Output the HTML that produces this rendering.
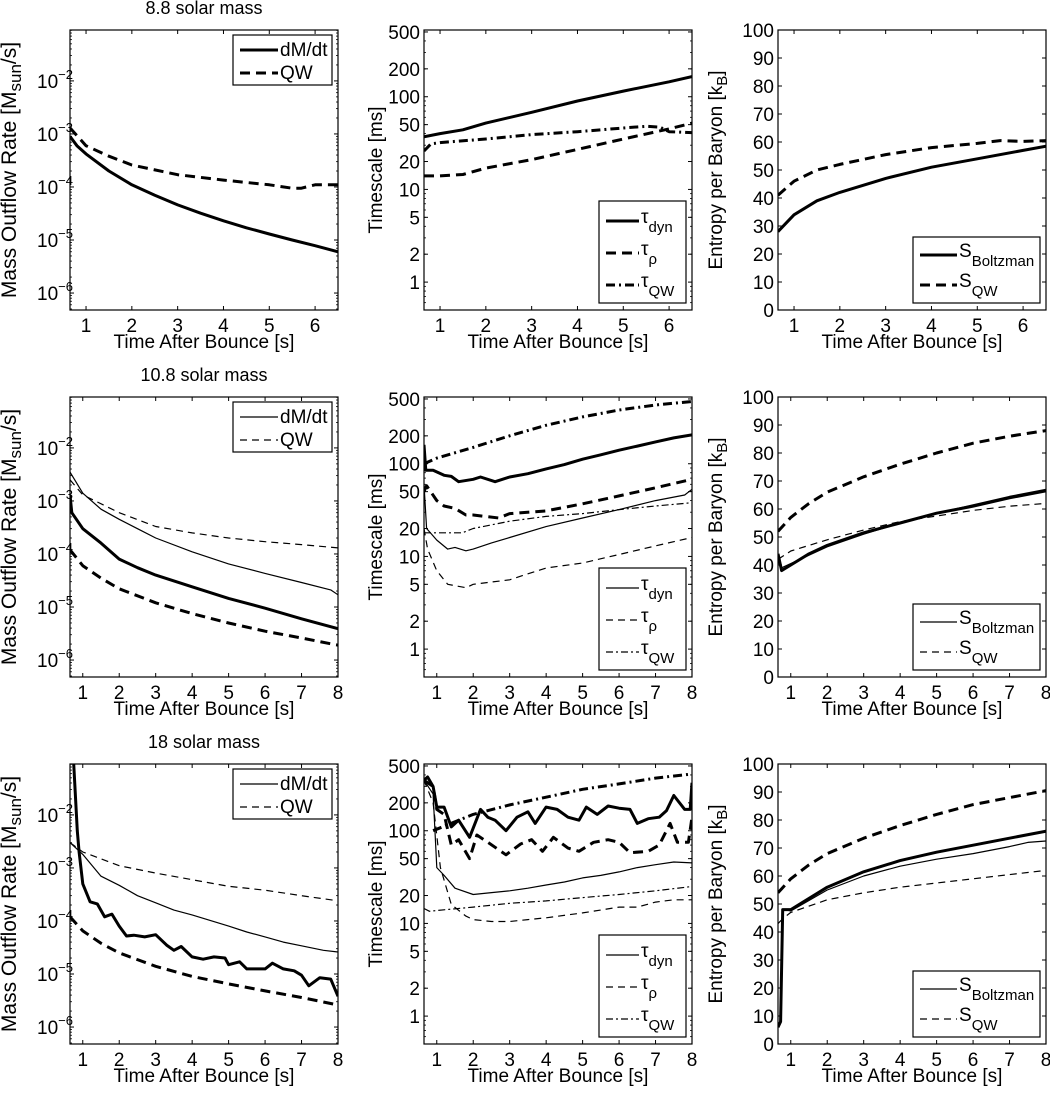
<!DOCTYPE html>
<html><head><meta charset="utf-8"><style>
html,body{margin:0;padding:0;background:#fff;}
svg text{font-family:"Liberation Sans",Arial,sans-serif;fill:#000;}
</style></head><body>
<svg id="fig" width="1050" height="1088" viewBox="0 0 1050 1088" xmlns="http://www.w3.org/2000/svg"></svg>
<script>
// ---------- DATA ----------
// Row 1: 8.8 solar mass
const r1_mass_dmdt_x=[0.65,0.8,1,1.5,2,2.5,3,3.5,4,4.5,5,5.5,6,6.5];
const r1_mass_dmdt_y=[9e-4,6e-4,4.2e-4,2e-4,1.1e-4,7e-5,4.6e-5,3.2e-5,2.3e-5,1.7e-5,1.3e-5,1e-5,7.8e-6,6e-6];
const r1_mass_qw_x=[0.65,1,1.5,2,3,4,5,5.5,5.7,6,6.5];
const r1_mass_qw_y=[1.3e-3,6e-4,3.8e-4,2.6e-4,1.7e-4,1.35e-4,1.1e-4,9.5e-5,9.5e-5,1.1e-4,1.1e-4];
const r1_ts_dyn_x=[0.65,1,1.5,2,3,4,5,6,6.5];
const r1_ts_dyn_y=[37,40,44,52,68,90,115,145,165];
const r1_ts_rho_x=[0.65,1,1.5,2,3,4,5,6,6.5];
const r1_ts_rho_y=[14,14,14.5,17,21,27,35,45,52];
const r1_ts_qw_x=[0.65,0.8,1,2,3,4,5,5.5,5.8,6,6.5];
const r1_ts_qw_y=[26,31,32,35,39,42,46,48,47,42,41];
const r1_s_b_x=[0.65,1,1.5,2,3,4,5,6,6.5];
const r1_s_b_y=[28,34,39,42,47,51,54,57,58.5];
const r1_s_qw_x=[0.65,1,1.5,2,3,4,5,5.5,6,6.5];
const r1_s_qw_y=[41,46,50,52,55.5,58,59.5,60.5,60.2,60.5];
// Row 2: 10.8 solar mass
const r2_mass_thin_x=[0.65,1,1.5,2,2.5,3,4,5,6,7,7.8,8];
const r2_mass_thin_y=[3.5e-3,1.4e-3,7e-4,4.5e-4,3e-4,2e-4,1.1e-4,6.5e-5,4.3e-5,2.9e-5,2.1e-5,1.7e-5];
const r2_mass_thinqw_x=[0.65,1,2,3,4,5,6,7,8];
const r2_mass_thinqw_y=[2.5e-3,1.3e-3,6e-4,3.3e-4,2.5e-4,2e-4,1.7e-4,1.5e-4,1.3e-4];
const r2_mass_thick_x=[0.65,0.7,1,1.5,2,2.5,3,4,5,6,7,8];
const r2_mass_thick_y=[1.3e-3,6e-4,3e-4,1.6e-4,8e-5,5.5e-5,4e-5,2.4e-5,1.45e-5,9.5e-6,6e-6,3.9e-6];
const r2_mass_thickqw_x=[0.65,1,1.5,2,3,4,5,6,7,8];
const r2_mass_thickqw_y=[1.2e-4,6e-5,3.5e-5,2.2e-5,1.2e-5,7.5e-6,5e-6,3.5e-6,2.6e-6,1.9e-6];
const r2_ts_dyn_thick_x=[0.65,0.7,0.9,1.2,1.4,1.6,2,2.2,2.6,3,3.5,4,4.5,5,5.5,6,6.5,7,7.5,8];
const r2_ts_dyn_thick_y=[160,85,85,75,73,64,68,72,64,72,78,88,98,112,125,140,155,172,190,205];
const r2_ts_rho_thick_x=[0.65,0.72,1,1.2,1.5,1.8,2,2.7,3,4,5,6,7,8];
const r2_ts_rho_thick_y=[50,58,40,35,33,28,28,26,29,31,37,45,55,68];
const r2_ts_qw_thick_x=[0.65,1,2,3,4,5,6,7,8];
const r2_ts_qw_thick_y=[100,115,150,200,260,320,380,430,470];
const r2_ts_dyn_thin_x=[0.65,0.72,1,1.3,1.5,1.8,2,2.5,3,4,5,6,7,7.8,8];
const r2_ts_dyn_thin_y=[60,20,15,12,12.5,11.5,12,14,16,21,26,32,40,46,53];
const r2_ts_rho_thin_x=[0.65,0.75,1,1.3,1.8,2,3,3.5,4,5,6,7,8];
const r2_ts_rho_thin_y=[20,12,7,5,4.6,5,5.6,6.5,7.5,8.5,10.5,13,16];
const r2_ts_qw_thin_x=[0.65,1,1.7,2,3,4,5,6,7,8];
const r2_ts_qw_thin_y=[18,18,18,20,24,27,29,32,35,38];
const r2_s_b_thick_x=[0.65,0.75,1,1.5,2,3,4,5,6,7,8];
const r2_s_b_thick_y=[44,38,40,44,47,51.5,55,58.5,61,64,66.5];
const r2_s_b_thin_x=[0.65,0.75,1,2,3,4,5,6,7,8];
const r2_s_b_thin_y=[43,39,40.5,46.5,51,55,58.5,61.5,64.5,67];
const r2_s_qw_thick_x=[0.65,1,1.5,2,3,4,5,6,7,8];
const r2_s_qw_thick_y=[52,57,62,66,71.5,76,80,83.5,86,88];
const r2_s_qw_thin_x=[0.65,1,2,3,4,5,6,7,8];
const r2_s_qw_thin_y=[42,45,49,52.5,55.5,57.5,59.5,61,62];
// Row 3: 18 solar mass
const r3_mass_thick_x=[0.75,0.85,0.9,1,1.2,1.4,1.6,1.8,2,2.2,2.4,2.7,3,3.3,3.5,3.7,4,4.3,4.6,4.9,5,5.3,5.5,6,6.2,6.5,6.8,7,7.2,7.5,7.8,8];
const r3_mass_thick_y=[1e-1,5e-3,2e-3,5e-4,2.3e-4,2.1e-4,1.2e-4,1.35e-4,8e-5,5.2e-5,5.4e-5,5e-5,5.5e-5,3.5e-5,2.8e-5,3.3e-5,2.1e-5,1.9e-5,2.1e-5,2e-5,1.5e-5,1.7e-5,1.25e-5,1.25e-5,1.6e-5,1.25e-5,1.15e-5,9.5e-6,6e-6,8.5e-6,8e-6,3.8e-6];
const r3_mass_thin_x=[0.65,1,1.5,2,2.5,3,3.5,4,5,5.5,6,6.5,7,7.6,8];
const r3_mass_thin_y=[3e-3,1.8e-3,7e-4,4.7e-4,3e-4,2.2e-4,1.6e-4,1.3e-4,8e-5,6.2e-5,5e-5,4e-5,3.4e-5,2.8e-5,2.6e-5];
const r3_mass_thinqw_x=[0.65,1,2,3,4,5,6,7,8];
const r3_mass_thinqw_y=[3e-3,2e-3,1.1e-3,8e-4,6e-4,4.5e-4,3.8e-4,3e-4,2.4e-4];
const r3_mass_thickqw_x=[0.65,1,1.5,2,3,4,5,6,7,8];
const r3_mass_thickqw_y=[1.2e-4,6.5e-5,3.8e-5,2.5e-5,1.4e-5,9e-6,6.5e-6,4.8e-6,3.6e-6,2.6e-6];
const r3_ts_dyn_thick_x=[0.65,0.75,0.9,1,1.2,1.4,1.6,1.9,2.2,2.4,2.6,2.9,3.2,3.5,3.7,4,4.3,4.6,4.9,5.1,5.4,5.7,6,6.3,6.5,6.8,7.1,7.3,7.5,7.8,7.95,8];
const r3_ts_dyn_thick_y=[350,380,300,180,180,110,130,85,170,140,130,100,140,160,120,180,170,140,130,180,150,185,175,170,120,135,140,165,240,170,170,330];
const r3_ts_rho_thick_x=[0.65,0.9,1,1.2,1.4,1.6,1.9,2.1,2.4,2.9,3.3,3.6,3.9,4.2,4.6,4.9,5.3,5.7,6,6.3,6.8,7.1,7.4,7.6,7.9,8];
const r3_ts_rho_thick_y=[350,300,170,150,70,80,50,90,75,55,72,80,60,85,65,60,75,80,75,58,60,70,120,75,75,140];
const r3_ts_qw_thick_x=[0.9,2,3,4,5,6,7,8];
const r3_ts_qw_thick_y=[100,150,190,230,280,320,370,410];
const r3_ts_dyn_thin_x=[0.65,0.9,1,1.2,1.5,2,2.5,3,3.5,4,4.5,5,5.5,6,6.5,7,7.5,8];
const r3_ts_dyn_thin_y=[350,250,40,33,24,20.5,21.5,22.5,24,26,28,31,33,36,40,43,46,45];
const r3_ts_rho_thin_x=[0.65,0.9,1.1,1.4,1.8,2,2.5,3,3.5,4,5,6,6.5,7,7.5,8];
const r3_ts_rho_thin_y=[350,200,40,16,12,11,10.5,10.5,11,11.5,13,15,15,17,18,18];
const r3_ts_qw_thin_x=[0.65,0.8,1,2,3,4,5,6,7,8];
const r3_ts_qw_thin_y=[14.5,13.5,13.8,15,16.5,17.5,19,20.5,22.5,25];
const r3_s_b_thick_x=[0.65,0.72,0.78,0.85,1,1.5,2,3,4,5,6,7,7.6,8];
const r3_s_b_thick_y=[6,8,48,48,48,52,56,61.5,65.5,68.5,71,73.5,75,76];
const r3_s_b_thin_x=[0.65,0.72,0.78,0.85,1,2,3,4,5,6,7,7.5,8];
const r3_s_b_thin_y=[6,8,48,48,47.5,55,60,63.5,66,68,70.5,72,72.5];
const r3_s_qw_thin_x=[0.65,0.8,1,2,3,4,5,6,7,8];
const r3_s_qw_thin_y=[43,45,47,51.5,54,56,57.5,59,60.5,62];
const r3_s_qw_thick_x=[0.65,1,1.5,2,3,4,5,6,7,8];
const r3_s_qw_thick_y=[54,59,64,68,73.5,78,82,85.5,88,90.5];

// tick labels
const xTicks1=[1,2,3,4,5,6];
const xTicks2=[1,2,3,4,5,6,7,8];
const massTickExp=[-2,-3,-4,-5,-6];
const tsTicks=[1,2,5,10,20,50,100,200,500];
const sTicks=[0,10,20,30,40,50,60,70,80,90,100];
const titles=["8.8 solar mass","10.8 solar mass","18 solar mass"];

// ---------- DRAW ----------
const NS="http://www.w3.org/2000/svg";
const svg=document.getElementById('fig');
function mk(tag,attrs,parent){const e=document.createElementNS(NS,tag);for(const k in attrs)e.setAttribute(k,attrs[k]);(parent||svg).appendChild(e);return e;}
const colL=[70,424,778], W=268, rowT=[30,397,764], H=280;
const STY={
 thickSolid:{w:3,d:"none"}, thickDash:{w:3,d:"10,6"}, thickDD:{w:3,d:"9,4,2,4"},
 thinSolid:{w:1.2,d:"none"}, thinDash:{w:1.2,d:"7,5"}, thinDD:{w:1.2,d:"7,3,2,3"}
};
let clipId=0;
function panel(r,c,xmax,ytype){
  const L=colL[c], T=rowT[r], R=L+W, B=T+H, xmin=0.65;
  const g=mk('g',{});
  
  
  const sx=x=>L+(x-xmin)/(xmax-xmin)*W;
  let sy;
  if(ytype==='mass'){const a=-6.32,b=-1.04;sy=v=>B-(Math.log10(v)-a)/(b-a)*H;}
  else if(ytype==='ts'){const a=Math.log10(0.5),b=Math.log10(525);sy=v=>B-(Math.log10(v)-a)/(b-a)*H;}
  else {sy=v=>B-v/100*H;}
  const id='clip'+(clipId++);
  const cp=mk('clipPath',{id:id},g); mk('rect',{x:L,y:T,width:W,height:H},cp);
  const xt=xmax>7?xTicks2:xTicks1;
  xt.forEach(v=>{
    const X=sx(v);
    mk('line',{x1:X,y1:B,x2:X,y2:B-4,stroke:'#000','stroke-width':1},g);
    mk('line',{x1:X,y1:T,x2:X,y2:T+4,stroke:'#000','stroke-width':1},g);
    const t=mk('text',{x:X,y:B+22,'text-anchor':'middle','font-size':19},g);t.textContent=v;
    
    
  });
  const yt=(ytype==='mass')?massTickExp.map(e=>Math.pow(10,e)):(ytype==='ts'?tsTicks:sTicks);
  yt.forEach((v,i)=>{
    const Y=sy(v);
    mk('line',{x1:L,y1:Y,x2:L+4,y2:Y,stroke:'#000','stroke-width':1},g);
    mk('line',{x1:R,y1:Y,x2:R-4,y2:Y,stroke:'#000','stroke-width':1},g);
    const t=mk('text',{x:L-4,y:Y+7,'text-anchor':'end','font-size':19},g);
    
    
    if(ytype==='mass'){t.setAttribute('x',L-33);t.setAttribute('text-anchor','start');t.textContent='10';const s=mk('tspan',{'font-size':13,dy:-9},t);s.textContent='\u2212'+(-massTickExp[i]);}
    else t.textContent=v;
  });
  if(ytype!=='lin'){
    const lo=ytype==='mass'?-7:-1, hi=ytype==='mass'?-1:3;
    for(let e=lo;e<hi;e++)for(let k=2;k<10;k++){const v=k*Math.pow(10,e);const Y=sy(v);if(Y<T||Y>B)continue;
      mk('line',{x1:L,y1:Y,x2:L+2,y2:Y,stroke:'#000','stroke-width':0.8},g);
      mk('line',{x1:R,y1:Y,x2:R-2,y2:Y,stroke:'#000','stroke-width':0.8},g);}
  }
  mk('rect',{x:L,y:T,width:W,height:H,fill:'none',stroke:'#000','stroke-width':1.2},g);
  const xl=mk('text',{x:L+W/2,y:B+38,'text-anchor':'middle','font-size':19},g);xl.textContent='Time After Bounce [s]';
  
  
  return {g,sx,sy,L,T,R,B,id};
}
function series(P,xs,ys,sty,name){
  const d=xs.map((x,i)=>(i?'L':'M')+P.sx(x).toFixed(1)+','+P.sy(ys[i]).toFixed(1)).join('');
  const p=mk('path',{d:d,fill:'none',stroke:'#000','stroke-width':sty.w,'stroke-dasharray':sty.d,'clip-path':'url(#'+P.id+')','stroke-linejoin':'round'},P.g);
  
  
}
function legend(P,x,y,w,h,entries,lineLen){
  const lg=mk('g',{},P.g);
  
  
  mk('rect',{x:x,y:y,width:w,height:h,fill:'#fff',stroke:'#000','stroke-width':1.2},lg);
  entries.forEach(e=>{
    mk('line',{x1:x+7,y1:e.y,x2:x+7+lineLen,y2:e.y,stroke:'#000','stroke-width':e.s.w,'stroke-dasharray':e.s.d},lg);
    const t=mk('text',{x:x+9+lineLen,y:e.y+(e.sub?2:6),'font-size':19},lg);
    
    
    t.textContent=e.main;
    if(e.sub){const s=mk('tspan',{'font-size':15,dy:9},t);s.textContent=e.sub;}
  });
}
function ylabel(x,yc,parts,fs){
  const t=mk('text',{x:0,y:0,'text-anchor':'middle','font-size':fs,transform:'translate('+x+','+yc+') rotate(-90)'});
  
  
  parts.forEach(p=>{const s=mk('tspan',p.sub?{'font-size':fs-4,dy:5}:(p.up?{dy:-5}:{}),t);s.textContent=p.t;});
}

const massLabel=[{t:'Mass Outflow Rate   [M'},{t:'sun',sub:true},{t:'/s]',up:true}];
const tsLabel=[{t:'Timescale [ms]'}];
const sLabel=[{t:'Entropy per Baryon [k'},{t:'B',sub:true},{t:']',up:true}];

for(let r=0;r<3;r++){
  const xmax=r===0?6.5:8;
  const tt=mk('text',{x:colL[0]+W/2,y:rowT[r]-16,'text-anchor':'middle','font-size':18});
  tt.textContent=titles[r];
  
  
  const cy=rowT[r]+H/2;
  ylabel(16,cy,massLabel,21); ylabel(382,cy,tsLabel,19); ylabel(722,cy,sLabel,19);
  const P1=panel(r,0,xmax,'mass'), P2=panel(r,1,xmax,'ts'), P3=panel(r,2,xmax,'lin');
  const thin=r>0;
  if(r===0){
    series(P1,r1_mass_dmdt_x,r1_mass_dmdt_y,STY.thickSolid,'dmdt-line');
    series(P1,r1_mass_qw_x,r1_mass_qw_y,STY.thickDash,'qw-line');
    series(P2,r1_ts_dyn_x,r1_ts_dyn_y,STY.thickSolid,'tau-dyn-line');
    series(P2,r1_ts_rho_x,r1_ts_rho_y,STY.thickDash,'tau-rho-line');
    series(P2,r1_ts_qw_x,r1_ts_qw_y,STY.thickDD,'tau-qw-line');
    series(P3,r1_s_b_x,r1_s_b_y,STY.thickSolid,'s-boltzman-line');
    series(P3,r1_s_qw_x,r1_s_qw_y,STY.thickDash,'s-qw-line');
  } else if(r===1){
    series(P1,r2_mass_thin_x,r2_mass_thin_y,STY.thinSolid,'dmdt-thin-line');
    series(P1,r2_mass_thinqw_x,r2_mass_thinqw_y,STY.thinDash,'qw-thin-line');
    series(P1,r2_mass_thick_x,r2_mass_thick_y,STY.thickSolid,'dmdt-thick-line');
    series(P1,r2_mass_thickqw_x,r2_mass_thickqw_y,STY.thickDash,'qw-thick-line');
    series(P2,r2_ts_qw_thick_x,r2_ts_qw_thick_y,STY.thickDD,'tau-qw-thick-line');
    series(P2,r2_ts_dyn_thick_x,r2_ts_dyn_thick_y,STY.thickSolid,'tau-dyn-thick-line');
    series(P2,r2_ts_rho_thick_x,r2_ts_rho_thick_y,STY.thickDash,'tau-rho-thick-line');
    series(P2,r2_ts_dyn_thin_x,r2_ts_dyn_thin_y,STY.thinSolid,'tau-dyn-thin-line');
    series(P2,r2_ts_rho_thin_x,r2_ts_rho_thin_y,STY.thinDash,'tau-rho-thin-line');
    series(P2,r2_ts_qw_thin_x,r2_ts_qw_thin_y,STY.thinDD,'tau-qw-thin-line');
    series(P3,r2_s_qw_thick_x,r2_s_qw_thick_y,STY.thickDash,'s-qw-thick-line');
    series(P3,r2_s_b_thick_x,r2_s_b_thick_y,STY.thickSolid,'s-boltzman-thick-line');
    series(P3,r2_s_b_thin_x,r2_s_b_thin_y,STY.thinSolid,'s-boltzman-thin-line');
    series(P3,r2_s_qw_thin_x,r2_s_qw_thin_y,STY.thinDash,'s-qw-thin-line');
  } else {
    series(P1,r3_mass_thick_x,r3_mass_thick_y,STY.thickSolid,'dmdt-thick-line');
    series(P1,r3_mass_thin_x,r3_mass_thin_y,STY.thinSolid,'dmdt-thin-line');
    series(P1,r3_mass_thinqw_x,r3_mass_thinqw_y,STY.thinDash,'qw-thin-line');
    series(P1,r3_mass_thickqw_x,r3_mass_thickqw_y,STY.thickDash,'qw-thick-line');
    series(P2,r3_ts_qw_thick_x,r3_ts_qw_thick_y,STY.thickDD,'tau-qw-thick-line');
    series(P2,r3_ts_dyn_thick_x,r3_ts_dyn_thick_y,STY.thickSolid,'tau-dyn-thick-line');
    series(P2,r3_ts_rho_thick_x,r3_ts_rho_thick_y,STY.thickDash,'tau-rho-thick-line');
    series(P2,r3_ts_dyn_thin_x,r3_ts_dyn_thin_y,STY.thinSolid,'tau-dyn-thin-line');
    series(P2,r3_ts_rho_thin_x,r3_ts_rho_thin_y,STY.thinDash,'tau-rho-thin-line');
    series(P2,r3_ts_qw_thin_x,r3_ts_qw_thin_y,STY.thinDD,'tau-qw-thin-line');
    series(P3,r3_s_qw_thick_x,r3_s_qw_thick_y,STY.thickDash,'s-qw-thick-line');
    series(P3,r3_s_b_thick_x,r3_s_b_thick_y,STY.thickSolid,'s-boltzman-thick-line');
    series(P3,r3_s_b_thin_x,r3_s_b_thin_y,STY.thinSolid,'s-boltzman-thin-line');
    series(P3,r3_s_qw_thin_x,r3_s_qw_thin_y,STY.thinDash,'s-qw-thin-line');
  }
  const T=rowT[r];
  const sS=thin?STY.thinSolid:STY.thickSolid, sD=thin?STY.thinDash:STY.thickDash, sDD=thin?STY.thinDD:STY.thickDD;
  legend(P1,233,T+5,99,50,[{y:T+20,s:sS,main:'dM/dt'},{y:T+43,s:sD,main:'QW'}],38);
  legend(P2,599,T+171,87,102,[{y:T+191,s:sS,main:'\u03c4',sub:'dyn'},{y:T+223,s:sD,main:'\u03c4',sub:'\u03c1'},{y:T+255,s:sDD,main:'\u03c4',sub:'QW'}],33);
  legend(P3,913,T+207,127,66,[{y:T+225,s:sS,main:'S',sub:'Boltzman'},{y:T+255,s:sD,main:'S',sub:'QW'}],37);
}
</script>
</body></html>
